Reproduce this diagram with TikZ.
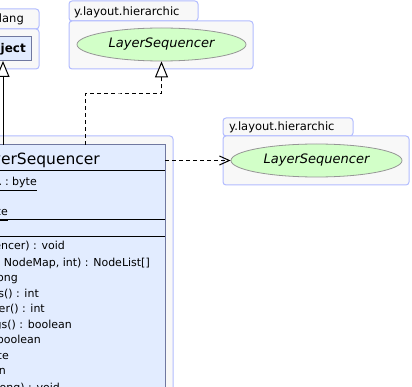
\documentclass[tikz,border=0pt]{standalone}
\usepackage{fontspec}
\setmainfont{DejaVu Sans}
\usepackage{xcolor}
\usepackage{tikz}
\usetikzlibrary{shapes.geometric, arrows.meta, positioning, calc}

\definecolor{pkgline}{RGB}{178,188,255}
\definecolor{pkgfill}{RGB}{248,248,248}
\definecolor{clsfill}{RGB}{226,236,255}
\definecolor{clsline}{RGB}{112,120,160}
\definecolor{ifcfill}{RGB}{210,255,200}
\definecolor{ifcline}{RGB}{150,150,150}

\begin{document}
\begin{tikzpicture}[
    x=1pt, y=-1pt,
    pkgbox/.style={rectangle, draw=pkgline, fill=pkgfill, line width=1pt, rounded corners=3pt, inner sep=0pt, outer sep=0pt},
    pkglabel/.style={inner sep=0pt, font=\fontsize{11.5}{13}\selectfont},
    clsbox/.style={rectangle, draw=clsline, fill=clsfill, line width=1pt, inner sep=0pt, outer sep=0pt},
    ifcnode/.style={ellipse, draw=ifcline, fill=ifcfill, line width=0.8pt, inner sep=0pt, font=\fontsize{13}{15}\selectfont\itshape},
    member/.style={anchor=base east, inner sep=0pt, font=\fontsize{11}{13}\selectfont},
    dashline/.style={dash pattern=on 4pt off 3pt, line width=1pt}
]
\useasboundingbox (0,0) rectangle (412,387);
\clip (0,0) rectangle (412,387);

% Package java.lang with Object
\node[pkgbox, minimum width=120pt, minimum height=20pt, anchor=south east] (langtab) at (39,29) {};
\node[pkgbox, minimum width=120pt, minimum height=40pt, anchor=north east] (langpkg) at (39,29) {};
\node[pkglabel, anchor=base east] (langlbl) at (24,23) {java.lang};
\node[clsbox, minimum width=70pt, minimum height=24pt, anchor=north east] (obj) at (31,37) {};
\node[member, font=\fontsize{12}{14}\selectfont\bfseries] (objname) at (26,53) {Object};

% Package y.layout.hierarchic (top)
\node[pkgbox, minimum width=129pt, minimum height=20pt, anchor=south west] (toptab) at (69,21) {};
\node[pkgbox, minimum width=184pt, minimum height=48pt, anchor=north west] (toppkg) at (69,21) {};
\node[pkglabel, anchor=base west] (toplbl) at (74,16) {y.layout.hierarchic};
\node[ifcnode, minimum width=169pt, minimum height=33pt] (ifcTop) at (161.5,44.5) {LayerSequencer};

% Package y.layout.hierarchic (right)
\node[pkgbox, minimum width=130pt, minimum height=18pt, anchor=south west] (righttab) at (223,136) {};
\node[pkgbox, minimum width=186pt, minimum height=49pt, anchor=north west] (rightpkg) at (223,136) {};
\node[pkglabel, anchor=base west] (rightlbl) at (229,131) {y.layout.hierarchic};
\node[ifcnode, minimum width=171pt, minimum height=33pt] (ifcRight) at (316.5,160.5) {LayerSequencer};

% Package and class box of the sequencer
\node[pkgbox, minimum width=300pt, minimum height=300pt, anchor=north east] (mainpkg) at (173,136) {};
\node[clsbox, minimum width=260pt, minimum height=270pt, anchor=north east] (cls) at (165,145) {};
\draw[line width=1pt] (cls.west |- 0,171) -- (cls.east |- 0,171);
\draw[line width=1pt] (cls.west |- 0,220) -- (cls.east |- 0,220);
\draw[line width=1pt] (cls.west |- 0,237) -- (cls.east |- 0,237);

\node[member, font=\fontsize{15.5}{18}\selectfont] (clsname) at (100,165) {DefaultLayerSequencer};

% Attributes
\node[member] (attrA) at (37,186) {\underline{UNWEIGHTED\_BARYCENTER : byte}};
\node[member] (attrB) at (-20,201) {\underline{MEDIAN : byte}};
\node[member] (attrC) at (8,216) {\underline{WEIGHTED\_MEDIAN : byte}};

% Methods
\node[member] (methA) at (65,250) {setLayerSequencer(LayerSequencer) : void};
\node[member] (methB) at (150,266) {sequenceNodeLayers(LayoutGraph, Layers, NodeMap, int) : NodeList[]};
\node[member] (methC) at (18,281) {getMaximalDuration() : long};
\node[member] (methD) at (39,297) {getRandomizationRounds() : int};
\node[member] (methE) at (45,312) {getWeightHeuristicNumber() : int};
\node[member] (methF) at (72,328) {isRemoveFalseCrossings() : boolean};
\node[member] (methG) at (41,343) {isUsingGroupTransposition() : boolean};
\node[member] (methH) at (9,359) {getWeightHeuristic() : byte};
\node[member] (methI) at (6,374) {isUsingTransposition() : boolean};
\node[member] (methJ) at (60,391) {setMaximalDuration(long) : void};

% Generalization to Object
\coordinate (gen) at (3,145);
\draw[line width=1pt, -{Triangle[fill=white, length=16pt, width=13pt]}] (gen) -- (gen |- obj.south);

% Realization of LayerSequencer
\coordinate (realize) at (85,145);
\coordinate (bend) at (120,94);
\draw[dashline, -{Triangle[fill=white, length=16pt, width=13pt]}] (realize) |- (bend) -| (ifcTop.south);

% Dependency to LayerSequencer
\draw[dashline, -{Straight Barb[length=10pt, width=9pt]}] (ifcRight.west -| cls.east) -- (ifcRight.west);

\end{tikzpicture}
\end{document}
